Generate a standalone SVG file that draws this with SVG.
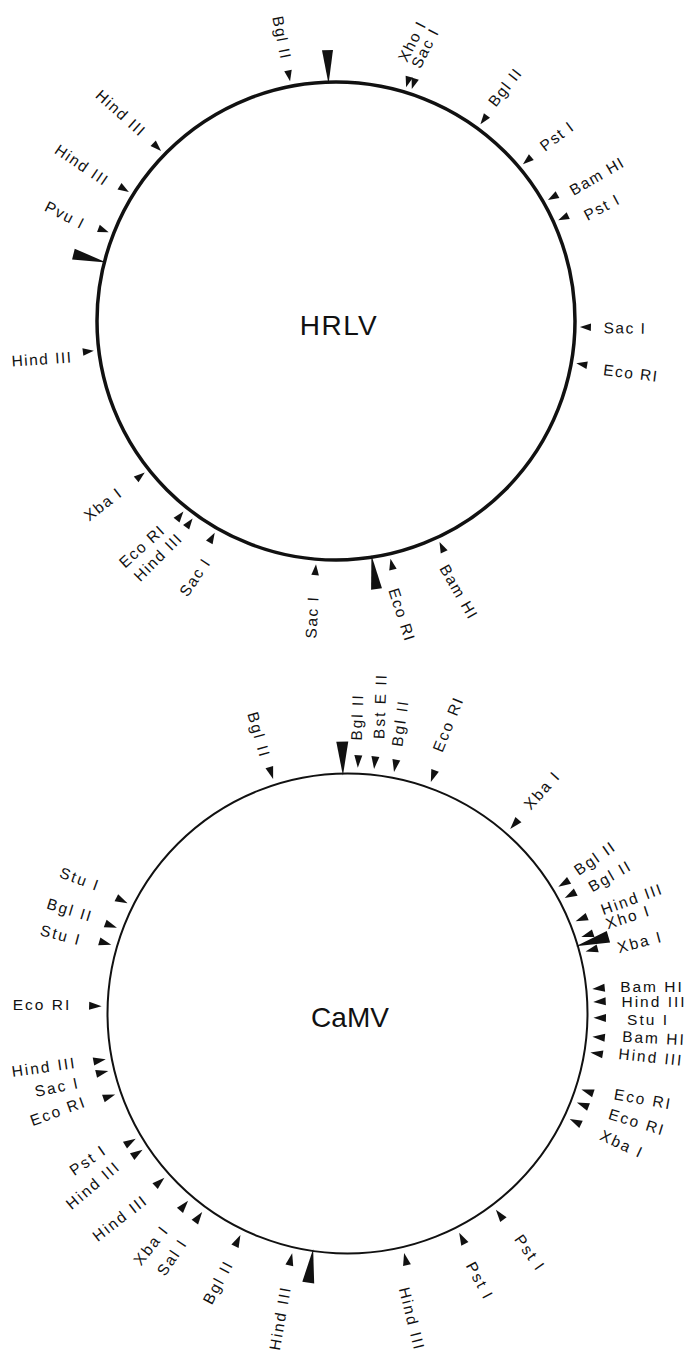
<svg xmlns="http://www.w3.org/2000/svg" xmlns:xlink="http://www.w3.org/1999/xlink" width="689" height="1355" viewBox="0 0 689 1355">
<defs>
<style>
.c1{fill:none;stroke:#111;stroke-width:3.5}
.c2{fill:none;stroke:#111;stroke-width:2}
.l1{font-family:"Liberation Sans",Arial,sans-serif;font-size:15.5px;letter-spacing:1.5px;fill:#111;text-anchor:middle;dominant-baseline:central}
.l2{font-family:"Liberation Sans",Arial,sans-serif;font-size:15.5px;letter-spacing:2px;fill:#111;text-anchor:middle;dominant-baseline:central}
.t{font-family:"Liberation Sans",Arial,sans-serif;font-size:28px;fill:#111;text-anchor:middle}
.m{fill:#111}
</style>
<path id="s1" d="M0,0 L-3.8,-11 L3.8,-11 Z"/>
<path id="s2" d="M0,0 L-4,-12.5 L4,-12.5 Z"/>
<path id="b1" d="M0,2 L-5.5,-32 L5.5,-32 Z"/>
<path id="b2" d="M0,2 L-6,-32 L6,-32 Z"/>
</defs>
<rect width="689" height="1355" fill="#fff"/>

<!-- ================= HRLV ================= -->
<g id="hrlv">
<circle class="c1" cx="336" cy="321" r="239"/>
<text class="t" x="339" y="335" letter-spacing="1.5">HRLV</text>
</g>
<g id="hrlv-connectors" class="m">
<use xlink:href="#b1" transform="rotate(-1.8 336 321) translate(336 82)"/>
<use xlink:href="#b1" transform="rotate(-75.7 336 321) translate(336 82)"/>
<use xlink:href="#b1" transform="rotate(171.4 336 321) translate(336 82)"/>
</g>
<g id="h-bgl2a"><use class="m" xlink:href="#s1" transform="rotate(-10.85 336 321) translate(336 77)"/><text class="l1" transform="translate(282 38) rotate(79)">Bgl II</text></g>
<g id="h-hind3a"><use class="m" xlink:href="#s1" transform="rotate(-45.8 336 321) translate(336 77)"/><text class="l1" transform="translate(121 113) rotate(42)">Hind III</text></g>
<g id="h-hind3b"><use class="m" xlink:href="#s1" transform="rotate(-58.1 336 321) translate(336 77)"/><text class="l1" transform="translate(82 165) rotate(34)">Hind III</text></g>
<g id="h-pvu1"><use class="m" xlink:href="#s1" transform="rotate(-68.7 336 321) translate(336 77)"/><text class="l1" transform="translate(65 215) rotate(27)">Pvu I</text></g>
<g id="h-hind3c"><use class="m" xlink:href="#s1" transform="rotate(-97 336 321) translate(336 77)"/><text class="l1" transform="translate(42 359) rotate(-4)">Hind III</text></g>
<g id="h-xba1"><use class="m" xlink:href="#s1" transform="rotate(-128.4 336 321) translate(336 77)"/><text class="l1" transform="translate(103 504) rotate(-38)">Xba I</text></g>
<g id="h-eco1a"><use class="m" xlink:href="#s1" transform="rotate(-141.3 336 321) translate(336 77)"/><text class="l1" transform="translate(142 546) rotate(-42)">Eco RI</text></g>
<g id="h-hind3d"><use class="m" xlink:href="#s1" transform="rotate(-144 336 321) translate(336 77)"/><text class="l1" transform="translate(158 557) rotate(-45)">Hind III</text></g>
<g id="h-sac1a"><use class="m" xlink:href="#s1" transform="rotate(-150.2 336 321) translate(336 77)"/><text class="l1" transform="translate(195 577) rotate(-56)">Sac I</text></g>
<g id="h-sac1b"><use class="m" xlink:href="#s1" transform="rotate(-175.3 336 321) translate(336 77)"/><text class="l1" transform="translate(312 617) rotate(-87)">Sac I</text></g>
<g id="h-eco1b"><use class="m" xlink:href="#s1" transform="rotate(167.1 336 321) translate(336 77)"/><text class="l1" transform="translate(402 615) rotate(72)">Eco RI</text></g>
<g id="h-bam1a"><use class="m" xlink:href="#s1" transform="rotate(154.9 336 321) translate(336 77)"/><text class="l1" transform="translate(459 592) rotate(60)">Bam HI</text></g>
<g id="h-eco1c"><use class="m" xlink:href="#s1" transform="rotate(100 336 321) translate(336 77)"/><text class="l1" transform="translate(631 373) rotate(7)">Eco RI</text></g>
<g id="h-sac1c"><use class="m" xlink:href="#s1" transform="rotate(91.4 336 321) translate(336 77)"/><text class="l1" transform="translate(625 328) rotate(1)">Sac I</text></g>
<g id="h-pst1a"><use class="m" xlink:href="#s1" transform="rotate(65.6 336 321) translate(336 77)"/><text class="l1" transform="translate(602 207) rotate(-28)">Pst I</text></g>
<g id="h-bam1b"><use class="m" xlink:href="#s1" transform="rotate(60.3 336 321) translate(336 77)"/><text class="l1" transform="translate(597 176) rotate(-30)">Bam HI</text></g>
<g id="h-pst1b"><use class="m" xlink:href="#s1" transform="rotate(50 336 321) translate(336 77)"/><text class="l1" transform="translate(557 136) rotate(-37)">Pst I</text></g>
<g id="h-bgl2b"><use class="m" xlink:href="#s1" transform="rotate(36.3 336 321) translate(336 77)"/><text class="l1" transform="translate(505 87) rotate(-52)">Bgl II</text></g>
<g id="h-xho1"><use class="m" xlink:href="#s1" transform="rotate(16.7 336 321) translate(336 77)"/><text class="l1" transform="translate(412 41) rotate(-63)">Xho I</text></g>
<g id="h-sac1d"><use class="m" xlink:href="#s1" transform="rotate(18.1 336 321) translate(336 77)"/><text class="l1" transform="translate(425 48) rotate(-63)">Sac I</text></g>

<!-- ================= CaMV ================= -->
<g id="camv">
<circle class="c2" cx="347.5" cy="1013.5" r="240"/>
<text class="t" x="350" y="1027">CaMV</text>
</g>
<g id="camv-connectors" class="m">
<use xlink:href="#b2" transform="rotate(-1.1 347.5 1013.5) translate(347.5 773.5)"/>
<use xlink:href="#b2" transform="rotate(73.6 347.5 1013.5) translate(347.5 773.5)"/>
<use xlink:href="#b2" transform="rotate(-171.7 347.5 1013.5) translate(347.5 773.5)"/>
</g>
<g id="c-bgl2a"><use class="m" xlink:href="#s2" transform="rotate(-17.6 347.5 1013.5) translate(347.5 767.5)"/><text class="l2" transform="translate(259 735) rotate(74)">Bgl II</text></g>
<g id="c-bgl2b"><use class="m" xlink:href="#s2" transform="rotate(2.4 347.5 1013.5) translate(347.5 767.5)"/><text class="l2" transform="translate(357 717) rotate(-88)">Bgl II</text></g>
<g id="c-bste2"><use class="m" xlink:href="#s2" transform="rotate(6.2 347.5 1013.5) translate(347.5 767.5)"/><text class="l2" transform="translate(380 706) rotate(-88)">Bst E II</text></g>
<g id="c-bgl2c"><use class="m" xlink:href="#s2" transform="rotate(10.9 347.5 1013.5) translate(347.5 767.5)"/><text class="l2" transform="translate(400 723) rotate(-82)">Bgl II</text></g>
<g id="c-eco1a"><use class="m" xlink:href="#s2" transform="rotate(19.8 347.5 1013.5) translate(347.5 767.5)"/><text class="l2" transform="translate(448 724) rotate(-68)">Eco RI</text></g>
<g id="c-xba1a"><use class="m" xlink:href="#s2" transform="rotate(41.4 347.5 1013.5) translate(347.5 767.5)"/><text class="l2" transform="translate(542 790) rotate(-48)">Xba I</text></g>
<g id="c-bgl2d"><use class="m" xlink:href="#s2" transform="rotate(59 347.5 1013.5) translate(347.5 767.5)"/><text class="l2" transform="translate(595 858) rotate(-35)">Bgl II</text></g>
<g id="c-bgl2e"><use class="m" xlink:href="#s2" transform="rotate(62 347.5 1013.5) translate(347.5 767.5)"/><text class="l2" transform="translate(610 876) rotate(-30)">Bgl II</text></g>
<g id="c-hind3a"><use class="m" xlink:href="#s2" transform="rotate(68 347.5 1013.5) translate(347.5 767.5)"/><text class="l2" transform="translate(632 899) rotate(-20)">Hind III</text></g>
<g id="c-xho1"><use class="m" xlink:href="#s2" transform="rotate(71.9 347.5 1013.5) translate(347.5 767.5)"/><text class="l2" transform="translate(628 917) rotate(-18)">Xho I</text></g>
<g id="c-xba1b"><use class="m" xlink:href="#s2" transform="rotate(75.4 347.5 1013.5) translate(347.5 767.5)"/><text class="l2" transform="translate(640 942) rotate(-15)">Xba I</text></g>
<g id="c-bam1a"><use class="m" xlink:href="#s2" transform="rotate(84.3 347.5 1013.5) translate(347.5 767.5)"/><text class="l2" transform="translate(652 986)">Bam HI</text></g>
<g id="c-hind3b"><use class="m" xlink:href="#s2" transform="rotate(87.3 347.5 1013.5) translate(347.5 767.5)"/><text class="l2" transform="translate(654 1001)">Hind III</text></g>
<g id="c-stu1a"><use class="m" xlink:href="#s2" transform="rotate(91 347.5 1013.5) translate(347.5 767.5)"/><text class="l2" transform="translate(648 1019)">Stu I</text></g>
<g id="c-bam1b"><use class="m" xlink:href="#s2" transform="rotate(95.4 347.5 1013.5) translate(347.5 767.5)"/><text class="l2" transform="translate(654 1038) rotate(3)">Bam HI</text></g>
<g id="c-hind3c"><use class="m" xlink:href="#s2" transform="rotate(99.1 347.5 1013.5) translate(347.5 767.5)"/><text class="l2" transform="translate(651 1057) rotate(6)">Hind III</text></g>
<g id="c-eco1b"><use class="m" xlink:href="#s2" transform="rotate(108 347.5 1013.5) translate(347.5 767.5)"/><text class="l2" transform="translate(643 1099) rotate(10)">Eco RI</text></g>
<g id="c-eco1c"><use class="m" xlink:href="#s2" transform="rotate(111.2 347.5 1013.5) translate(347.5 767.5)"/><text class="l2" transform="translate(637 1122) rotate(17)">Eco RI</text></g>
<g id="c-xba1c"><use class="m" xlink:href="#s2" transform="rotate(115.4 347.5 1013.5) translate(347.5 767.5)"/><text class="l2" transform="translate(622 1144) rotate(25)">Xba I</text></g>
<g id="c-pst1a"><use class="m" xlink:href="#s2" transform="rotate(142.9 347.5 1013.5) translate(347.5 767.5)"/><text class="l2" transform="translate(530 1253) rotate(55)">Pst I</text></g>
<g id="c-pst1b"><use class="m" xlink:href="#s2" transform="rotate(153 347.5 1013.5) translate(347.5 767.5)"/><text class="l2" transform="translate(480 1281) rotate(62)">Pst I</text></g>
<g id="c-hind3d"><use class="m" xlink:href="#s2" transform="rotate(166.7 347.5 1013.5) translate(347.5 767.5)"/><text class="l2" transform="translate(412 1319) rotate(76)">Hind III</text></g>
<g id="c-hind3e"><use class="m" xlink:href="#s2" transform="rotate(-167 347.5 1013.5) translate(347.5 767.5)"/><text class="l2" transform="translate(280 1318) rotate(-80)">Hind III</text></g>
<g id="c-bgl2f"><use class="m" xlink:href="#s2" transform="rotate(-154.2 347.5 1013.5) translate(347.5 767.5)"/><text class="l2" transform="translate(218 1282) rotate(-62)">Bgl II</text></g>
<g id="c-sal1"><use class="m" xlink:href="#s2" transform="rotate(-143.8 347.5 1013.5) translate(347.5 767.5)"/><text class="l2" transform="translate(172 1257) rotate(-56)">Sal I</text></g>
<g id="c-xba1d"><use class="m" xlink:href="#s2" transform="rotate(-139.6 347.5 1013.5) translate(347.5 767.5)"/><text class="l2" transform="translate(151 1245) rotate(-52)">Xba I</text></g>
<g id="c-hind3f"><use class="m" xlink:href="#s2" transform="rotate(-131.9 347.5 1013.5) translate(347.5 767.5)"/><text class="l2" transform="translate(120 1218) rotate(-38)">Hind III</text></g>
<g id="c-hind3g"><use class="m" xlink:href="#s2" transform="rotate(-123.6 347.5 1013.5) translate(347.5 767.5)"/><text class="l2" transform="translate(93 1185) rotate(-40)">Hind III</text></g>
<g id="c-pst1c"><use class="m" xlink:href="#s2" transform="rotate(-120.6 347.5 1013.5) translate(347.5 767.5)"/><text class="l2" transform="translate(88 1160) rotate(-35)">Pst I</text></g>
<g id="c-eco1d"><use class="m" xlink:href="#s2" transform="rotate(-109.2 347.5 1013.5) translate(347.5 767.5)"/><text class="l2" transform="translate(58 1111) rotate(-20)">Eco RI</text></g>
<g id="c-sac1"><use class="m" xlink:href="#s2" transform="rotate(-103.5 347.5 1013.5) translate(347.5 767.5)"/><text class="l2" transform="translate(57 1087) rotate(-12)">Sac I</text></g>
<g id="c-hind3h"><use class="m" xlink:href="#s2" transform="rotate(-100.7 347.5 1013.5) translate(347.5 767.5)"/><text class="l2" transform="translate(44 1067) rotate(-8)">Hind III</text></g>
<g id="c-eco1e"><use class="m" xlink:href="#s2" transform="rotate(-88.3 347.5 1013.5) translate(347.5 767.5)"/><text class="l2" transform="translate(42 1004)">Eco RI</text></g>
<g id="c-stu1b"><use class="m" xlink:href="#s2" transform="rotate(-73.8 347.5 1013.5) translate(347.5 767.5)"/><text class="l2" transform="translate(61 935) rotate(15)">Stu I</text></g>
<g id="c-bgl2g"><use class="m" xlink:href="#s2" transform="rotate(-69.6 347.5 1013.5) translate(347.5 767.5)"/><text class="l2" transform="translate(70 910) rotate(17)">Bgl II</text></g>
<g id="c-stu1c"><use class="m" xlink:href="#s2" transform="rotate(-63.4 347.5 1013.5) translate(347.5 767.5)"/><text class="l2" transform="translate(80 879) rotate(20)">Stu I</text></g>
</svg>
